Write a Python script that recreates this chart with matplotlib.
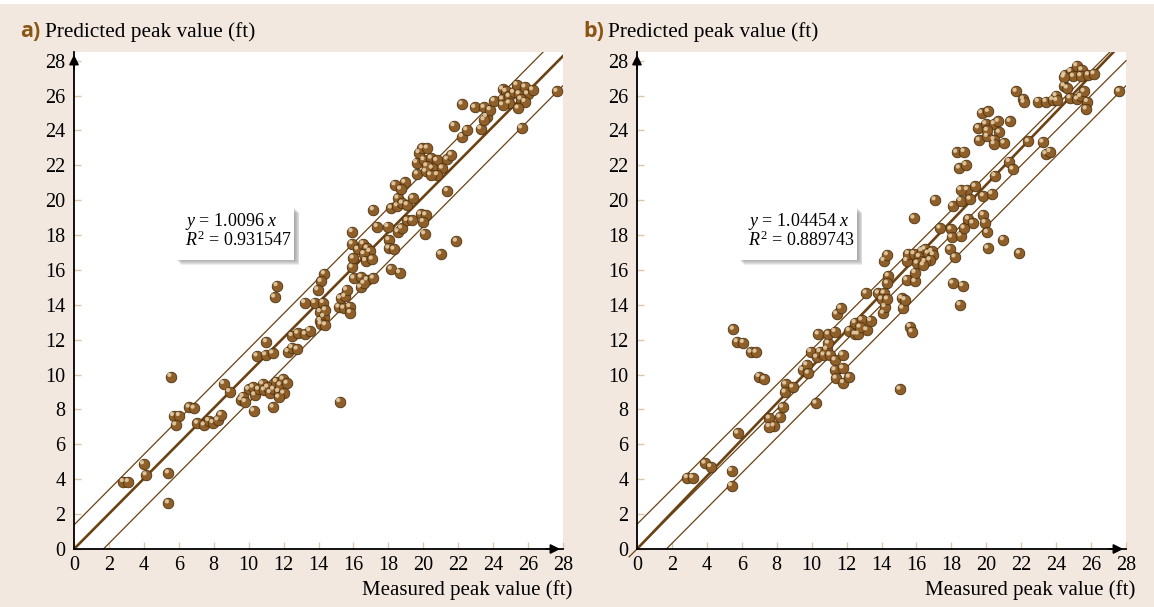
import matplotlib
matplotlib.use('Agg')
import matplotlib.pyplot as plt
from matplotlib import transforms
from matplotlib.patches import Rectangle
import numpy as np

plt.rcParams['font.family'] = ['Liberation Serif', 'DejaVu Serif']
plt.rcParams['mathtext.fontset'] = 'custom'
plt.rcParams['mathtext.rm'] = 'Liberation Serif'
plt.rcParams['mathtext.it'] = 'Liberation Serif:italic'

# ---- data (ft) ----
a_x = [2.83, 3.11, 3.98, 4.13, 5.41, 5.41, 5.55, 5.70, 6.03, 5.83, 6.60, 6.88, 7.07, 7.46,
       7.71, 7.96, 8.24, 8.43, 8.57, 8.91,
       9.58, 9.68, 9.81, 10.0, 10.25, 10.35, 10.57, 10.8, 10.9, 11.09, 11.24, 11.43, 11.59,
       11.72, 11.82, 11.97, 12.01, 12.2, 11.72, 11.4, 10.29,
       10.48, 10.97, 11.38, 11.02, 12.26, 12.49, 12.78, 12.49, 12.81, 13.25, 13.5, 13.21,
       13.79, 14.27, 14.11, 14.3, 14.4, 14.11, 14.15, 14.4, 15.22, 15.17, 15.45, 15.79, 15.83,
       14.34, 14.15, 13.96, 15.26, 15.51, 15.61, 15.93, 16.03, 16.45, 16.79, 17.14, 16.41,
       16.6, 15.93, 15.93, 16.25, 16.56, 16.79, 16.94, 16.6, 16.7, 17.08, 15.99, 17.36, 17.97,
       18.03, 18.03, 18.32, 18.55, 18.76, 19.08, 19.37, 18.17, 18.64, 17.14, 18.17, 18.51,
       18.55, 18.8, 19.08, 19.41, 18.38, 18.94, 18.7, 19.85, 20.14, 20.0, 20.08, 21.38, 21.0,
       21.9,
       19.62, 20.04, 20.46, 20.77, 21.09, 19.66, 20.14, 20.52, 20.81, 20.42, 20.2, 19.76,
       19.95, 20.23, 21.38, 21.61, 21.76, 22.22, 22.24, 22.49, 23.29, 22.95, 23.48, 23.62,
       23.48, 23.83, 24.06,
       24.54, 24.73, 24.54, 24.92, 25.17, 25.36, 25.49, 25.82, 25.97, 26.26, 25.59, 24.92,
       24.54, 25.82, 25.43, 25.63, 27.65, 11.63, 11.49]
a_y = [3.86, 3.86, 4.88, 4.25, 4.36, 2.64, 9.89, 7.65, 7.65, 7.11, 8.13, 8.07, 7.21, 7.11,
       7.36, 7.25, 7.40, 7.69, 9.48, 9.03,
       8.55, 8.74, 8.45, 9.16, 9.28, 8.84, 9.16, 9.47, 9.12, 9.28, 8.97, 9.16, 9.6,
       9.03, 9.41, 9.74, 8.93, 9.5, 8.7, 8.13, 7.92,
       11.07, 11.13, 11.23, 11.88, 11.32, 11.55, 11.46, 12.24, 12.37, 12.32, 12.52, 14.13,
       14.13, 14.13, 13.61, 13.33, 13.71, 13.1, 12.91, 12.85, 8.45, 13.87, 13.81, 13.9, 13.56,
       15.78, 15.34, 14.86, 14.38, 14.48, 14.86, 16.16, 15.53, 15.59, 15.43, 15.53, 15.01,
       15.24, 18.2, 17.5, 17.19, 17.5, 17.25, 17.06, 16.93, 16.54, 16.62, 16.68, 18.49, 18.49,
       17.73, 17.25, 17.19, 18.2, 18.4, 18.84, 18.84, 16.05, 15.85, 19.45, 19.55, 19.68,
       20.12, 19.83, 19.74, 20.12, 20.88, 21.02, 20.64, 19.2, 19.16, 18.78, 18.07, 20.54, 16.91,
       17.65,
       22.16, 22.32, 22.41, 22.28, 21.84, 21.51, 21.65, 21.84, 21.46, 21.46, 21.97, 22.73,
       22.99, 22.99, 22.35, 22.6, 24.27, 25.51, 23.65, 24.03, 24.1, 25.32, 25.32, 24.8,
       24.61, 25.19, 25.7,
       26.37, 26.24, 25.8, 25.95, 26.18, 26.62, 26.1, 26.49, 26.1, 26.33, 25.8, 25.57,
       25.47, 25.66, 25.28, 24.14, 26.24, 15.1, 14.44]

b_x = [2.88, 3.19, 3.89, 4.22, 5.42, 5.42, 5.77, 5.52, 5.74, 6.09, 6.53, 6.82, 7.0, 7.29,
       7.58, 8.19, 7.85, 7.58, 8.34, 8.52, 8.48, 8.92, 9.49, 9.72, 9.81, 9.95, 10.29, 10.48,
       10.71, 10.86, 11.05, 10.96, 10.38, 10.96, 11.34, 11.34, 11.34, 11.4, 11.78, 11.78,
       11.82, 12.16, 10.25, 11.44, 11.67, 12.16, 12.49, 12.49, 12.67, 12.87, 13.16, 13.38,
       12.77, 14.11, 14.2, 15.06,
       15.64, 15.75, 13.12, 13.82, 14.15, 14.01, 14.34, 14.15, 14.34, 14.39, 14.34, 15.45,
       15.45, 15.92, 15.92, 15.22, 15.16, 15.35, 15.54, 15.86, 16.17, 16.31, 16.49, 16.68,
       16.88, 16.97, 16.78, 16.49, 16.05, 16.4, 15.86, 17.07, 17.35, 17.97, 18.02, 17.93,
       18.21, 18.54, 18.73, 18.98, 19.23, 18.08, 18.65, 18.5, 18.08, 18.54, 18.92, 19.36,
       18.54, 19.07, 18.46, 18.84, 18.31, 18.73, 19.83, 20.32, 19.83, 19.93, 20.06, 20.09,
       20.98, 21.9, 20.5, 21.32, 21.52, 22.41, 23.24, 23.42, 23.65,
       19.6, 19.55, 19.97, 19.74, 20.12, 20.46, 20.69, 20.75, 20.45, 20.45, 21.02, 21.36,
       20.06, 20.06, 21.71, 22.13, 22.16, 22.98, 23.42, 23.81, 24.0, 24.04, 24.46, 24.64,
       24.51, 24.84, 25.18, 25.47, 24.99, 25.41, 25.85, 26.17, 24.46, 24.8, 25.22, 25.41,
       25.6, 25.79, 25.72, 27.62]
b_y = [4.09, 4.09, 4.92, 4.72, 4.49, 3.63, 6.64, 12.6, 11.88, 11.84, 11.28, 11.28, 9.89, 9.75,
       7.5, 7.56, 7.06, 7.02, 8.13, 9.45, 8.99, 9.28, 10.27, 10.56, 10.08, 11.32, 11.0, 11.32,
       11.13, 11.46, 11.13, 11.8, 12.32, 12.32, 12.47, 10.84, 10.27, 9.79, 10.37, 11.13,
       9.54, 9.85, 8.36, 13.48, 13.81, 12.52, 12.98, 12.32, 12.32, 13.14, 12.56, 13.1,
       12.72, 13.52, 13.9, 9.16,
       12.75, 12.45, 14.67, 14.67, 14.67, 14.33, 14.33, 16.54, 16.87, 15.66, 15.24, 16.54,
       15.43, 15.34, 15.85, 13.81, 14.38, 14.29, 16.93, 16.93, 16.77, 17.1, 17.19, 16.96,
       17.06, 16.87, 16.58, 16.48, 16.39, 16.29, 18.97, 20.02, 18.4, 18.34, 17.88, 17.19,
       16.74, 17.96, 18.4, 18.92, 18.69, 15.24, 15.09, 14.0, 19.68, 19.98, 20.6, 20.79,
       20.6, 20.06, 21.84, 22.03, 22.74, 22.79, 20.25, 20.37, 19.16, 18.72, 18.15, 17.25,
       17.73, 16.96, 21.4, 22.22, 21.78, 23.37, 23.33, 22.66, 22.79,
       23.43, 24.14, 24.38, 25.0, 25.09, 24.38, 24.52, 23.89, 23.47, 23.24, 23.28, 24.52,
       23.66, 24.0, 26.24, 25.8, 25.61, 25.66, 25.66, 25.76, 25.99, 25.72, 26.56, 26.43,
       27.19, 27.38, 27.71, 27.48, 27.1, 27.14, 27.19, 27.25, 27.06, 25.86, 25.8, 25.95,
       26.24, 25.66, 25.23, 26.24]

slope_a, r2_a = 1.0096, 0.931547
slope_b, r2_b = 1.04454, 0.889743
ticks = list(range(0, 29, 2))

BG = '#f2e8df'
LINE = '#6b4213'
DOT = '#8f5f2a'
DOT_EDGE = '#4e3210'
HILITE = '#ecd6b0'
TICK = '#dcc6ab'

fig = plt.figure(figsize=(11.54, 6.07), dpi=100, facecolor=BG)
fig.patches.append(Rectangle((0, 1 - 4 / 607), 1, 4 / 607, transform=fig.transFigure,
                             facecolor='white', edgecolor='none'))


def draw_panel(left, xs, ys, slope, r2, letter, extra_ref):
    ax = fig.add_axes([left, 58 / 607, 489 / 1154, 497 / 607])
    ax.set_facecolor('white')
    ax.set_xlim(0, 28)
    ax.set_ylim(0, 28.5)
    for s in ['top', 'right']:
        ax.spines[s].set_visible(False)
    for s in ['left', 'bottom']:
        ax.spines[s].set_linewidth(1.3)
        ax.spines[s].set_color('black')
    ax.set_xticks(ticks)
    ax.set_yticks(ticks)
    ax.tick_params(direction='in', length=5, width=1, color=TICK, labelsize=14.5)
    ax.tick_params(axis='x', pad=5)
    ax.tick_params(axis='y', pad=6)

    ax.annotate('', xy=(1, 0), xytext=(0.96, 0), xycoords='axes fraction',
                arrowprops=dict(arrowstyle='-|>', color='black', lw=1.3, mutation_scale=14))
    ax.annotate('', xy=(0, 1), xytext=(0, 0.96), xycoords='axes fraction',
                arrowprops=dict(arrowstyle='-|>', color='black', lw=1.3, mutation_scale=14))

    # fit and band lines
    lx = np.array([0, 28.0])
    if extra_ref:
        ax.plot(lx, lx + 1.42, color=LINE, lw=0.9, zorder=2)
        ax.plot(np.array([-0.45, 28.0]), np.array([-0.45, 28.0]), color=LINE, lw=0.9,
                zorder=2, clip_on=False)
        ax.plot(lx, 1.0096 * lx - 1.7, color=LINE, lw=0.9, zorder=2)
    else:
        ax.plot(lx, slope * lx + 1.38, color=LINE, lw=0.9, zorder=2)
        ax.plot(lx, slope * lx - 1.7, color=LINE, lw=0.9, zorder=2)
    ax.plot(lx, slope * lx, color=LINE, lw=1.9, zorder=2)

    # spheres
    ax.scatter(xs, ys, s=58, color=DOT, edgecolor=DOT_EDGE, linewidth=0.6, zorder=3)
    hl = transforms.offset_copy(ax.transData, fig=fig, x=-1.6, y=1.6, units='dots')
    ax.scatter(xs, ys, s=9, color=HILITE, edgecolor='none', alpha=0.85, zorder=4,
               transform=hl)

    # equation box with soft shadow
    bx0, by0, bw, bh = 5.8, 16.6, 6.8, 2.98
    for k in range(6, 0, -1):
        sh = transforms.offset_copy(ax.transData, fig=fig, x=k * 0.9, y=-k * 0.9, units='dots')
        ax.add_patch(Rectangle((bx0, by0), bw, bh, transform=sh, facecolor='#6e6e6e',
                               edgecolor='none', alpha=0.13, zorder=5))
    ax.add_patch(Rectangle((bx0, by0), bw, bh, facecolor='white', edgecolor='none',
                           zorder=6))
    eq = r'$y$ = %s $x$' % slope + '\n' + r'$R^2$ = %s' % r2
    ax.text(6.36, 17.38, eq, fontsize=13, va='baseline', linespacing=0.88, zorder=7)

    fx = left - 54 / 1154
    fig.text(fx, 1 - 37 / 607, letter, fontsize=15.5, fontweight='bold', color='#8a5414',
             family=['Open Sans', 'DejaVu Sans'], va='baseline')
    fig.text(fx + 25 / 1154, 1 - 37 / 607, 'Predicted peak value (ft)', fontsize=15.3,
             va='baseline')
    fig.text(left + 498 / 1154, 12 / 607, 'Measured peak value (ft)', fontsize=15,
             ha='right', va='baseline')
    return ax


draw_panel(74 / 1154, a_x, a_y, slope_a, r2_a, 'a)', False)
draw_panel(637 / 1154, b_x, b_y, slope_b, r2_b, 'b)', True)

fig.savefig('out.png', dpi=100, facecolor=BG)
